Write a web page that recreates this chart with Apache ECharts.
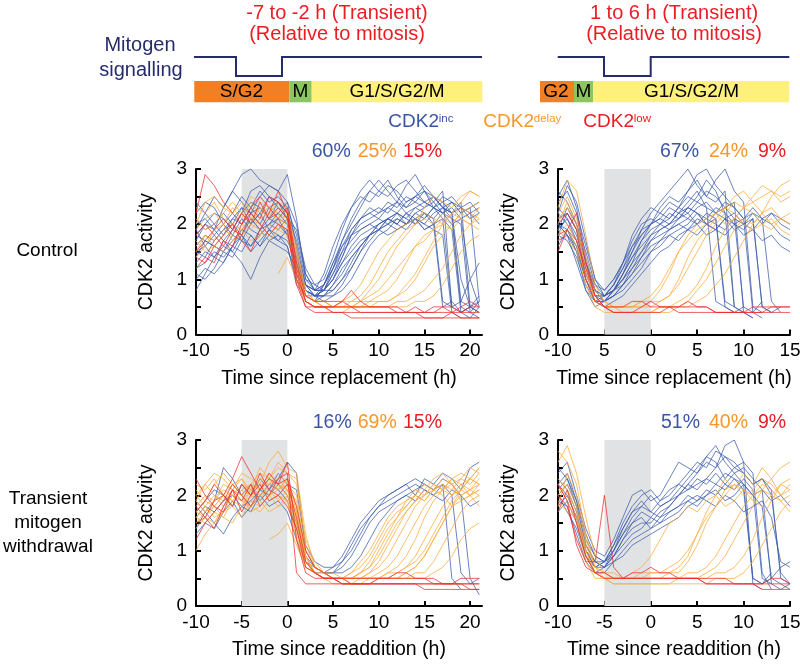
<!DOCTYPE html>
<html><head><meta charset="utf-8">
<script src="https://cdn.jsdelivr.net/npm/echarts@6/dist/echarts.min.js"></script>
<style>html,body{margin:0;padding:0;background:#fff}#c{width:800px;height:664px}</style>
</head><body><div id="c"></div>
<script>
const FONT = '"Liberation Sans", Arial, Helvetica, sans-serif';

// ---------- time axes ----------
const timeLong = [-10,-9,-8,-7,-6,-5,-4,-3,-2,-1,0,1,2,3,4,5,6,7,8,9,10,11,12,13,14,15,16,17,18,19,20,21];
const timeShort = [-10,-9,-8,-7,-6,-5,-4,-3,-2,-1,0,1,2,3,4,5,6,7,8,9,10,11,12,13,14,15];

// ---------- tick labels ----------
const ticksLong = [-10,-5,0,5,10,15,20];
const tickLabelsLong = ['-10','-5','0','5','10','15','20'];
const ticksShort = [-10,-5,0,5,10,15];
const tickLabelsShortTop = ['-10','5','0','5','10','15'];
const tickLabelsShortBottom = ['-10','-5','0','5','10','15'];
const yTickLabels = ['0','1','2','3'];

// ---------- shaded windows ----------
const bandA = [-5, 0], bandB = [-5, 0], bandC = [-5, 0], bandD = [-5, 0];

// ---------- percentages ----------
const pctA = ['60%','25%','15%'];
const pctB = ['67%','24%','9%'];
const pctC = ['16%','69%','15%'];
const pctD = ['51%','40%','9%'];

// ---------- Panel A: Control, replacement (t = -10..21) ----------
const A_inc = [
 [1.6,1.8,1.7,1.9,2.0,1.8,2.1,1.9,2.0,2.2,2.0, 1.1,0.8,0.7,0.9,1.2,1.5,1.7,1.9,2.0,2.1,2.0,2.2,2.1,2.3,2.2,2.1,0.6,0.5,null,null,null],
 [1.3,1.5,1.4,1.7,1.9,2.2,2.4,2.3,2.1,2.4,2.2, 1.6,0.9,0.8,0.8,1.0,1.3,1.6,1.8,1.9,2.0,2.1,2.0,2.2,2.1,2.0,2.2,2.3,2.1,0.5,0.4,0.6],
 [2.0,2.1,1.9,2.3,2.6,2.9,3.0,2.8,2.7,2.6,2.9, 2.1,1.0,0.8,0.9,1.3,1.7,2.0,2.3,2.6,2.8,2.6,2.4,2.7,2.9,2.6,2.5,2.3,2.4,2.2,2.3,2.4],
 [1.8,1.7,1.6,1.5,1.7,1.9,1.8,1.6,1.8,1.7,1.9, 1.0,0.7,0.6,0.7,0.9,1.2,1.4,1.6,1.8,1.9,2.0,1.9,2.0,2.1,2.0,1.9,1.8,0.4,0.3,null,null],
 [0.8,1.1,1.4,1.6,1.5,1.3,1.0,1.4,1.7,1.6,1.5, 1.2,0.9,0.7,0.8,1.0,1.4,1.8,2.0,2.1,2.2,2.3,2.4,2.2,2.3,2.4,2.5,2.3,2.2,2.4,0.5,0.4],
 [2.2,2.4,2.3,2.0,2.2,2.5,2.3,2.6,2.4,2.5,2.3, 1.8,1.1,0.8,0.8,1.1,1.5,1.9,2.1,2.3,2.2,2.4,2.3,2.5,2.4,2.3,2.4,2.6,0.5,0.6,1.0,1.3],
 [1.5,1.6,1.8,2.0,1.8,1.7,2.0,2.2,1.9,2.1,2.0, 1.4,0.8,0.7,0.7,0.9,1.1,1.4,1.6,1.8,1.9,2.0,2.1,2.0,2.1,1.9,2.0,2.2,2.1,2.0,0.4,0.3],
 [1.9,1.6,1.4,1.3,1.6,1.9,2.1,1.9,1.7,1.8,1.6, 1.0,0.7,0.6,0.9,1.3,1.6,1.8,1.9,2.0,1.9,2.1,2.2,2.1,2.0,2.2,2.1,2.3,2.2,1.0,0.5,0.6],
 [1.1,1.0,1.2,1.5,1.4,1.7,1.6,1.8,2.0,2.1,1.8, 1.3,0.9,0.8,0.8,0.8,1.0,1.2,1.5,1.7,1.9,2.1,2.2,2.4,2.5,2.4,2.3,2.4,2.5,2.3,2.2,2.3],
 [2.1,1.9,2.0,2.2,2.0,2.3,2.2,2.0,2.3,2.4,2.2, 1.7,1.0,0.9,1.0,1.4,1.9,2.3,2.6,2.8,2.6,2.5,2.7,2.8,2.6,2.4,2.3,2.5,2.4,2.2,2.3,0.6],
 [1.4,1.7,1.6,1.5,1.8,2.1,1.9,1.8,2.0,1.9,2.1, 1.5,0.8,0.7,0.6,0.7,0.9,1.2,1.5,1.8,2.0,2.1,2.0,1.9,2.1,2.2,2.0,2.1,1.9,0.4,0.3,0.5],
 [1.7,2.0,2.2,2.1,1.9,2.2,2.6,2.7,2.5,2.4,2.1, 1.9,1.2,0.9,0.8,1.1,1.4,1.8,2.1,2.2,2.3,2.2,2.4,2.3,2.5,2.6,2.4,2.2,2.3,2.1,2.2,2.0],
 [1.2,1.3,1.5,1.4,1.6,1.5,1.8,1.6,1.9,1.7,1.6, 0.9,0.7,0.7,0.8,1.0,1.3,1.5,1.7,1.8,1.9,1.8,1.9,2.0,2.1,1.9,2.0,0.5,0.6,0.4,0.5,null],
 [1.9,2.2,2.0,1.8,2.1,2.0,2.2,2.3,2.1,2.2,2.4, 1.6,0.9,0.7,0.8,1.2,1.6,1.9,2.1,2.2,2.1,2.3,2.2,2.0,2.2,2.3,2.5,2.4,2.2,2.3,2.4,2.2],
 [1.5,1.4,1.7,1.9,2.1,2.3,2.0,2.2,2.5,2.3,2.1, 1.4,0.9,0.8,1.1,1.6,2.0,2.3,2.5,2.4,2.6,2.8,2.5,2.3,2.4,2.6,2.3,2.1,0.5,0.4,0.5,0.7],
 [1.8,2.0,1.9,1.7,1.5,1.8,1.6,1.9,2.1,2.0,1.8, 1.2,0.8,0.7,0.7,0.8,1.0,1.3,1.6,1.8,2.0,2.1,2.0,2.2,2.0,2.1,2.3,2.2,2.0,2.1,1.0,0.5],
 [2.4,2.2,2.5,2.3,2.6,2.4,2.2,2.5,2.7,2.6,2.4, 2.0,1.1,0.8,0.9,1.2,1.7,2.1,2.4,2.6,2.5,2.7,2.6,2.4,2.5,2.7,2.5,2.3,2.2,0.6,0.5,0.4],
 [1.0,1.2,1.1,1.3,1.6,1.8,1.5,1.7,1.9,1.8,1.7, 1.3,0.8,0.7,0.7,0.7,0.8,1.0,1.3,1.6,1.8,1.9,2.1,2.0,2.2,2.1,2.3,2.2,2.4,2.3,2.1,2.2]
];
const A_delay = [
 [1.9,2.1,2.2,2.0,2.3,2.1,2.4,2.2,2.3,2.0,2.2, 1.3,0.7,0.6,0.5,0.5,0.6,0.6,0.7,0.9,1.2,1.5,1.7,1.9,2.0,2.1,2.0,2.2,2.1,2.3,2.2,2.1],
 [1.6,1.8,1.7,1.9,1.8,2.0,1.9,2.1,2.2,2.1,2.0, 1.2,0.7,0.6,0.5,0.5,0.5,0.5,0.6,0.6,0.7,0.8,1.0,1.3,1.6,1.8,1.9,2.0,1.9,2.1,2.0,2.2],
 [2.3,2.2,2.4,2.1,2.0,2.2,2.5,2.4,2.3,2.2,2.1, 1.5,0.8,0.6,0.6,0.5,0.5,0.5,0.5,0.6,0.6,0.6,0.7,0.8,1.0,1.3,1.6,1.8,2.0,2.2,2.3,2.4],
 [1.7,1.5,1.6,1.8,2.0,1.9,1.7,1.8,2.0,1.9,2.1, 1.1,0.6,0.5,0.5,0.5,0.6,0.7,0.9,1.2,1.5,1.7,1.9,2.0,2.1,2.2,2.1,2.0,2.2,2.1,2.0,1.9],
 [null,null,null,null,null,null,null,null,null,1.1,1.4, 1.0,0.6,0.5,0.5,0.5,0.5,0.5,0.5,0.5,0.5,0.5,0.6,0.6,0.7,0.8,1.0,1.2,1.5,1.8,2.0,2.1],
 [2.0,2.4,2.5,2.3,2.2,2.4,2.1,2.3,2.2,2.4,2.3, 1.4,0.7,0.6,0.6,0.5,0.5,0.6,0.6,0.8,1.0,1.3,1.6,1.8,2.0,2.3,2.5,2.4,2.3,2.5,2.6,2.5],
 [1.4,1.6,1.9,2.0,1.7,1.8,2.0,1.9,1.7,1.9,1.8, 1.0,0.6,0.5,0.5,0.4,0.4,0.5,0.5,0.5,0.5,0.5,0.5,0.5,0.6,0.6,0.7,0.9,1.2,1.5,1.7,1.8],
 [2.1,1.9,2.0,2.2,2.4,2.2,2.0,2.3,2.1,2.3,2.2, 1.6,0.8,0.6,0.6,0.5,0.5,0.5,0.6,0.7,0.8,1.0,1.2,1.4,1.6,1.7,1.9,2.1,2.0,2.2,2.1,2.3],
 [1.5,1.8,1.6,1.5,1.7,1.9,2.1,2.0,1.8,2.0,1.9, 1.2,0.7,0.6,0.5,0.5,0.5,0.5,0.5,0.5,0.6,0.6,0.7,0.9,1.1,1.4,1.7,2.0,2.2,2.4,2.6,2.5]
];
const A_low = [
 [2.2,2.9,2.7,2.4,2.2,2.0,2.3,2.1,2.5,2.4,2.2, 1.2,0.6,0.5,0.5,0.4,0.4,0.4,0.4,0.4,0.4,0.4,0.4,0.4,0.4,0.4,0.4,0.4,0.4,0.4,0.4,0.4],
 [1.4,1.3,1.6,1.8,2.0,1.7,1.5,1.9,2.2,2.6,2.2, 1.0,0.5,0.5,0.5,0.5,0.6,0.8,0.6,0.5,0.5,0.5,0.5,0.4,0.5,0.4,0.4,0.5,0.5,0.4,0.5,0.5],
 [1.5,1.7,1.9,2.1,1.9,1.8,2.2,2.0,1.8,2.0,1.9, 0.9,0.5,0.4,0.4,0.4,0.4,0.3,0.3,0.3,0.3,0.3,0.3,0.3,0.3,0.3,0.3,0.3,0.3,0.3,0.3,0.3],
 [1.2,1.4,1.3,1.7,1.6,2.0,2.3,2.5,2.3,2.1,2.3, 1.3,0.7,0.6,0.6,0.6,0.6,0.5,0.5,0.5,0.5,0.5,0.4,0.4,0.4,0.4,0.5,0.5,0.4,0.5,0.6,0.5],
 [1.8,2.0,1.8,1.6,1.9,2.2,2.0,2.4,2.1,2.3,2.1, 1.1,0.6,0.5,0.5,0.5,0.5,0.5,0.4,0.4,0.4,0.4,0.4,0.4,0.4,0.3,0.3,0.3,0.4,0.3,0.3,0.3]
];

// ---------- Panel B: Control, 1 to 6 h (t = -10..15) ----------
const B_inc = [
 [2.0,1.9,1.5,1.0,0.7,0.7,0.8,1.0,1.2,1.4,1.6,1.7,1.9,2.0,2.1,2.0,2.2,2.1,0.5,0.4,0.5,null,null,null,null,null],
 [2.3,2.1,1.8,1.2,0.8,0.6,0.7,0.9,1.2,1.5,1.8,1.9,2.0,2.2,2.1,2.3,2.4,2.2,2.3,2.1,0.5,0.4,0.6,null,null,null],
 [2.5,2.8,2.3,1.4,0.8,0.6,0.8,1.1,1.5,1.9,2.2,2.4,2.6,2.8,3.0,2.7,2.5,2.8,3.0,2.6,2.4,0.5,0.4,null,null,null],
 [1.8,1.7,1.4,0.9,0.6,0.5,0.6,0.7,0.9,1.1,1.3,1.5,1.6,1.8,1.9,1.8,2.0,1.9,1.8,2.0,1.9,2.1,0.5,0.4,null,null],
 [2.1,2.2,1.9,1.3,0.9,0.8,1.0,1.3,1.6,1.8,2.0,2.1,2.3,2.2,2.4,2.6,2.3,0.6,0.5,0.4,null,null,null,null,null,null],
 [1.6,1.9,1.6,1.0,0.6,0.6,0.7,0.8,1.0,1.2,1.5,1.7,1.8,1.9,2.0,2.2,2.1,2.0,1.9,2.1,2.0,1.9,2.1,2.0,1.8,1.7],
 [2.2,2.0,1.7,1.1,0.7,0.7,0.9,1.2,1.6,1.9,2.0,2.1,2.0,2.2,2.3,2.5,2.8,2.6,2.2,0.5,0.4,0.3,null,null,null,null],
 [1.9,2.3,2.0,1.5,0.9,0.7,0.8,1.0,1.3,1.5,1.7,1.8,1.9,2.0,1.9,2.1,2.0,2.2,2.1,1.9,2.0,2.2,2.1,0.6,0.4,null],
 [1.7,1.8,1.5,0.8,0.5,0.6,0.8,1.1,1.4,1.7,1.9,2.0,2.1,2.3,2.2,2.4,2.3,2.2,2.4,2.3,2.1,2.2,2.0,2.2,2.1,2.0],
 [2.4,2.6,2.2,1.6,1.0,0.8,1.0,1.3,1.7,2.0,2.1,2.0,2.2,2.1,2.3,2.2,2.0,2.1,0.6,0.5,null,null,null,null,null,null],
 [2.0,1.8,1.3,0.8,0.6,0.7,0.8,0.9,1.1,1.3,1.5,1.6,1.8,1.7,1.9,2.0,1.8,1.9,2.1,2.0,1.8,1.9,1.7,1.8,1.6,1.5],
 [2.2,2.7,2.4,1.7,1.0,0.7,0.9,1.2,1.5,1.8,2.0,2.3,2.5,2.4,2.6,2.9,3.0,2.7,2.5,2.3,2.1,0.4,0.3,null,null,null],
 [1.9,2.1,1.7,1.1,0.7,0.6,0.8,1.1,1.4,1.6,1.8,2.0,1.9,2.1,2.2,2.0,2.1,2.3,2.2,2.0,2.1,2.3,2.1,2.2,2.0,1.9],
 [2.6,2.4,2.0,1.3,0.8,0.7,0.9,1.3,1.8,2.1,2.3,2.2,2.4,2.3,2.5,2.4,2.6,2.5,2.3,2.4,0.4,0.3,null,null,null,null],
 [2.0,1.8,1.6,1.0,0.6,0.6,0.7,0.9,1.1,1.4,1.7,1.9,2.0,2.1,2.3,2.2,2.0,1.9,2.1,2.2,2.0,2.1,0.5,0.4,0.5,null],
 [1.8,2.2,1.9,1.3,0.8,0.7,0.8,1.0,1.3,1.7,2.0,2.2,2.1,2.3,2.6,2.8,2.5,2.4,2.6,0.5,0.4,null,null,null,null,null]
];
const B_delay = [
 [2.0,2.4,2.0,1.2,0.6,0.5,0.5,0.5,0.5,0.5,0.6,0.8,1.1,1.5,1.8,2.0,2.1,2.2,2.0,2.1,2.3,2.2,2.0,1.9,2.1,2.0],
 [1.8,2.0,1.7,1.0,0.6,0.5,0.4,0.4,0.4,0.4,0.4,0.5,0.5,0.6,0.7,0.9,1.2,1.6,1.9,2.1,2.3,2.4,2.5,2.6,2.5,2.6],
 [2.2,2.5,2.1,1.4,0.8,0.6,0.5,0.5,0.5,0.6,0.7,0.9,1.2,1.5,1.7,1.9,2.0,2.2,2.3,2.2,2.0,1.9,2.0,2.1,1.9,1.8],
 [1.9,1.7,1.5,0.9,0.5,0.4,0.4,0.4,0.4,0.4,0.4,0.4,0.4,0.5,0.5,0.6,0.7,0.9,1.1,1.4,1.7,2.0,2.2,2.5,2.7,2.8],
 [2.3,2.8,2.6,1.8,0.9,0.6,0.5,0.5,0.5,0.5,0.5,0.6,0.7,1.0,1.4,1.7,1.9,2.1,2.3,2.5,2.6,2.4,2.2,2.0,2.1,2.0],
 [1.7,1.9,1.6,1.1,0.7,0.5,0.5,0.4,0.4,0.4,0.4,0.5,0.5,0.5,0.6,0.8,1.0,1.3,1.6,1.9,2.1,2.0,2.2,2.3,2.1,2.2],
 [2.1,2.3,1.9,1.2,0.7,0.5,0.5,0.5,0.5,0.6,0.6,0.6,0.7,0.9,1.2,1.5,1.8,2.0,2.2,2.4,2.3,2.5,2.7,2.6,2.4,2.5]
];
const B_low = [
 [2.0,2.2,1.9,1.0,0.6,0.5,0.4,0.4,0.4,0.4,0.4,0.4,0.5,0.5,0.6,0.5,0.5,0.4,0.4,0.4,0.4,0.4,0.4,0.4,0.4,0.4],
 [1.8,1.9,2.2,1.3,0.7,0.5,0.4,0.4,0.4,0.5,0.6,0.5,0.5,0.5,0.5,0.5,0.5,0.4,0.4,0.4,0.4,0.5,0.5,0.5,0.5,0.5],
 [1.5,1.9,1.7,1.2,0.7,0.5,0.5,0.5,0.6,0.6,0.5,0.5,0.5,0.4,0.4,0.4,0.4,0.4,0.4,0.4,0.4,0.4,0.4,0.5,0.5,0.5]
];

// ---------- Panel C: transient withdrawal, readdition (t = -10..21) ----------
const C_inc = [
 [1.6,1.8,1.7,1.9,2.0,1.8,1.9,2.1,2.0,2.2,2.0, 1.5,0.9,0.7,0.6,0.6,0.7,0.9,1.2,1.5,1.7,1.8,1.9,2.0,2.1,2.2,2.1,2.2,2.0,0.6,0.4,0.5],
 [1.4,1.7,1.9,2.5,2.3,2.0,2.2,1.9,2.1,2.3,2.6, 2.4,1.0,0.7,0.6,0.7,0.9,1.2,1.5,1.7,1.9,2.0,2.1,2.2,2.0,2.3,2.2,2.4,2.3,2.1,2.5,2.6],
 [1.9,1.7,1.5,1.3,1.6,1.8,1.7,2.0,1.8,1.9,1.7, 1.2,0.8,0.6,0.6,0.6,0.8,1.1,1.4,1.6,1.8,1.9,2.0,2.1,2.2,2.1,2.0,2.2,0.5,0.3,null,null],
 [1.3,1.5,1.4,1.7,1.9,1.6,1.8,2.0,2.2,2.1,1.9, 1.4,0.8,0.7,0.6,0.6,0.6,0.7,0.9,1.2,1.5,1.7,1.9,2.0,1.9,2.1,2.0,1.9,2.1,2.0,1.8,1.9],
 [1.7,1.9,2.1,2.0,1.8,2.2,2.0,2.3,2.1,2.4,2.2, 2.1,1.1,0.8,0.7,0.7,0.8,1.0,1.3,1.6,1.8,2.0,2.1,2.2,2.3,2.2,2.1,2.3,2.2,2.0,0.5,0.2]
];
const C_delay = [
 [1.0,1.3,1.5,1.8,2.0,1.9,2.1,2.0,2.2,2.1,2.3, 1.5,0.8,0.6,0.5,0.5,0.5,0.5,0.6,0.7,0.9,1.2,1.5,1.7,1.9,2.0,2.1,2.2,2.1,2.3,2.2,2.4],
 [1.6,1.5,1.7,1.6,1.9,2.1,2.0,2.3,2.2,2.4,2.2, 1.8,0.9,0.6,0.5,0.5,0.5,0.5,0.5,0.5,0.6,0.7,0.9,1.2,1.5,1.8,2.0,2.1,2.2,2.0,2.1,2.3],
 [1.8,2.0,1.9,2.2,2.1,2.4,2.3,2.2,2.6,2.8,2.5, 2.4,1.3,0.7,0.6,0.5,0.5,0.5,0.5,0.5,0.5,0.5,0.6,0.7,0.9,1.2,1.5,1.8,2.0,2.2,2.3,2.5],
 [2.0,1.8,1.6,1.7,2.0,1.9,1.8,1.7,1.9,2.0,1.9, 1.2,0.7,0.6,0.5,0.5,0.5,0.6,0.8,1.0,1.3,1.6,1.8,1.9,2.1,2.0,2.2,2.1,2.0,2.2,2.1,2.0],
 [1.5,1.7,1.8,1.6,1.5,1.8,2.0,1.9,1.7,1.8,2.0, 1.6,0.8,0.6,0.5,0.4,0.4,0.4,0.5,0.5,0.5,0.5,0.5,0.6,0.7,0.9,1.2,1.5,1.8,2.0,2.1,2.2],
 [2.2,2.1,2.3,2.0,1.9,2.1,2.2,2.4,2.3,2.1,2.2, 2.0,1.0,0.7,0.6,0.5,0.5,0.5,0.5,0.6,0.8,1.1,1.4,1.7,1.9,2.1,2.3,2.4,2.2,2.3,2.5,2.4],
 [null,null,null,null,null,null,null,null,1.2,1.3,1.5, 1.1,0.7,0.6,0.5,0.5,0.5,0.5,0.5,0.5,0.5,0.6,0.6,0.7,0.8,1.0,1.3,1.6,1.9,2.1,2.0,2.2],
 [1.7,1.6,1.8,2.0,2.2,2.0,1.8,2.0,2.1,1.9,2.1, 1.7,0.9,0.6,0.5,0.5,0.5,0.5,0.6,0.7,1.0,1.3,1.6,1.9,2.0,2.2,2.1,2.3,2.2,1.9,2.0,2.1],
 [1.9,2.2,2.0,1.8,2.1,2.3,2.0,2.1,2.4,2.2,2.0, 1.4,0.8,0.6,0.5,0.5,0.5,0.4,0.4,0.5,0.5,0.5,0.5,0.5,0.6,0.6,0.8,1.1,1.4,1.7,1.9,2.0],
 [1.4,1.6,1.5,1.7,1.8,1.6,1.9,1.8,2.0,1.8,1.9, 1.3,0.7,0.6,0.6,0.5,0.5,0.6,0.7,0.9,1.2,1.5,1.7,1.8,2.0,1.9,2.1,2.0,1.8,1.9,2.0,1.8],
 [2.1,1.9,2.2,2.4,2.2,2.3,2.1,2.5,2.3,2.6,2.4, 2.2,1.2,0.8,0.6,0.6,0.5,0.5,0.5,0.5,0.5,0.6,0.7,0.9,1.2,1.6,1.9,2.1,2.3,2.4,2.3,2.5],
 [1.6,1.8,2.0,1.9,2.1,2.0,1.7,1.8,2.0,2.2,2.1, 1.5,0.8,0.6,0.5,0.5,0.4,0.4,0.4,0.4,0.5,0.5,0.5,0.5,0.5,0.5,0.6,0.7,0.9,1.2,1.4,1.5],
 [1.9,1.7,1.9,2.1,2.0,2.2,2.1,1.9,2.2,2.3,2.1, 1.9,0.9,0.6,0.5,0.5,0.5,0.5,0.5,0.6,0.7,0.9,1.2,1.5,1.8,2.0,2.2,2.1,2.3,2.2,2.0,2.1],
 [1.7,1.9,1.8,2.0,1.9,1.8,2.1,2.2,2.0,2.1,2.3, 1.7,0.8,0.6,0.5,0.5,0.5,0.5,0.5,0.5,0.5,0.5,0.5,0.6,0.7,0.9,1.2,1.5,1.8,2.1,2.3,2.2],
 [2.0,2.2,2.4,2.3,2.1,2.0,2.2,2.1,2.3,2.5,2.4, 2.3,1.1,0.7,0.6,0.5,0.5,0.5,0.6,0.8,1.1,1.4,1.6,1.8,2.0,1.9,2.1,2.2,2.0,2.1,2.3,2.2]
];
const C_low = [
 [1.7,1.9,2.2,2.0,2.3,2.7,2.4,2.1,2.3,2.2,2.6, 1.2,0.6,0.5,0.5,0.5,0.4,0.4,0.4,0.4,0.4,0.4,0.4,0.4,0.4,0.4,0.4,0.4,0.4,0.4,0.4,0.4],
 [2.3,2.0,1.8,1.7,2.1,1.9,2.2,1.8,2.0,2.3,2.4, 0.6,0.4,0.4,0.4,0.4,0.4,0.4,0.4,0.4,0.4,0.4,0.4,0.4,0.4,0.3,0.3,0.3,0.3,0.3,0.3,0.3],
 [1.5,1.6,1.4,1.8,2.1,1.7,2.0,2.2,1.9,2.0,1.8, 1.4,0.7,0.6,0.5,0.5,0.5,0.5,0.5,0.5,0.5,0.5,0.5,0.5,0.5,0.5,0.5,0.4,0.4,0.5,0.5,0.5],
 [1.8,1.6,1.9,2.0,1.8,2.2,2.0,2.4,2.1,2.0,2.2, 1.6,0.8,0.6,0.5,0.5,0.4,0.4,0.4,0.4,0.5,0.5,0.6,0.6,0.5,0.5,0.4,0.4,0.4,0.4,0.3,0.3],
 [1.2,1.5,1.7,1.9,2.2,2.0,1.8,2.1,2.4,2.2,2.3, 1.8,1.0,0.7,0.6,0.5,0.5,0.4,0.4,0.4,0.4,0.4,0.4,0.4,0.4,0.4,0.4,0.4,0.4,0.4,0.4,0.4]
];

// ---------- Panel D: transient withdrawal, 1 to 6 h (t = -10..15) ----------
const D_inc = [
 [2.2,2.0,1.6,1.0,0.8,0.7,0.9,1.2,1.5,1.7,1.6,1.8,1.9,2.0,2.1,2.2,2.3,2.2,2.4,2.3,2.1,0.5,0.4,0.6,null,null],
 [2.5,2.3,1.9,1.2,0.9,0.8,1.1,1.5,1.8,2.0,2.1,1.9,2.0,2.2,2.4,2.6,2.5,2.8,2.7,2.5,2.6,2.4,0.6,0.3,null,null],
 [1.9,1.8,1.3,0.8,0.6,0.6,0.8,1.0,1.2,1.3,1.4,1.5,1.7,1.8,1.9,2.0,1.9,1.8,2.0,1.9,1.7,1.8,1.9,1.6,0.8,0.7],
 [2.1,2.3,1.8,1.1,0.8,0.7,1.0,1.4,1.7,1.9,1.7,1.6,1.8,2.0,2.2,2.1,2.3,2.5,2.9,3.0,2.6,0.4,0.3,null,null,null],
 [1.7,1.9,1.5,0.9,0.7,0.8,0.9,1.1,1.3,1.4,1.6,1.5,1.6,1.7,1.9,1.8,2.0,2.1,1.9,2.0,2.2,2.0,1.8,0.5,0.4,0.3],
 [2.4,2.6,2.0,1.4,1.0,0.9,1.2,1.6,2.0,2.1,1.9,2.0,2.3,2.6,2.5,2.4,2.7,2.6,2.3,2.5,2.4,2.2,2.3,2.1,0.5,0.4],
 [2.0,1.7,1.4,0.9,0.6,0.7,0.8,0.9,1.1,1.2,1.3,1.4,1.5,1.6,1.8,1.9,2.0,2.2,2.1,2.3,2.2,2.0,2.1,1.9,2.0,1.8],
 [2.3,2.1,1.7,1.0,0.7,0.8,1.1,1.4,1.7,1.8,2.0,1.8,1.9,2.1,2.3,2.5,2.7,2.9,2.6,2.4,2.2,0.5,0.4,0.5,0.7,0.8],
 [2.2,2.4,1.9,1.3,0.9,0.8,1.0,1.3,1.6,1.8,1.7,1.9,2.1,2.2,2.1,2.3,2.2,2.4,2.2,2.1,2.3,2.1,0.5,0.4,null,null],
 [1.8,2.0,1.6,1.0,0.7,0.7,0.9,1.2,1.4,1.5,1.5,1.7,1.8,2.0,2.2,2.4,2.6,2.5,2.7,2.6,2.4,2.2,2.3,2.0,0.6,0.4],
 [2.0,2.2,1.8,1.1,0.8,0.8,1.0,1.3,1.5,1.6,1.4,1.6,1.7,1.8,2.0,1.9,2.1,2.0,2.2,2.4,2.5,2.3,2.1,0.4,0.3,0.4]
];
const D_delay = [
 [2.8,2.6,2.2,1.3,0.7,0.6,0.5,0.5,0.5,0.5,0.5,0.5,0.6,0.6,0.8,1.1,1.5,1.8,2.1,2.2,2.0,2.1,2.3,2.2,2.0,2.1],
 [2.0,2.2,1.8,1.0,0.6,0.5,0.4,0.4,0.4,0.4,0.4,0.4,0.4,0.5,0.5,0.5,0.6,0.7,0.9,1.2,1.5,1.8,2.1,2.3,2.5,2.6],
 [2.2,1.9,1.5,0.8,0.5,0.5,0.5,0.5,0.6,0.7,0.9,1.2,1.5,1.6,1.8,1.7,1.9,2.0,1.8,1.9,2.1,1.9,1.8,2.0,1.9,1.7],
 [1.8,2.4,2.0,1.2,0.7,0.6,0.5,0.5,0.5,0.5,0.5,0.5,0.5,0.5,0.5,0.5,0.5,0.6,0.6,0.7,0.9,1.2,1.6,1.9,2.2,2.3],
 [2.6,2.9,2.4,1.6,0.9,0.6,0.6,0.5,0.5,0.5,0.6,0.6,0.6,0.7,0.9,1.3,1.7,2.0,2.3,2.1,2.4,2.2,2.5,2.3,2.0,2.2],
 [1.9,1.7,1.6,0.9,0.6,0.5,0.4,0.4,0.4,0.4,0.4,0.4,0.4,0.4,0.4,0.4,0.4,0.5,0.5,0.5,0.6,0.8,1.1,1.4,1.7,1.9],
 [2.3,2.1,1.7,1.1,0.7,0.5,0.5,0.5,0.5,0.6,0.6,0.6,0.7,0.8,1.0,1.3,1.6,1.8,2.0,2.2,2.1,2.0,2.2,2.1,1.9,2.0],
 [2.1,2.0,1.6,1.0,0.6,0.5,0.5,0.5,0.5,0.5,0.5,0.5,0.5,0.5,0.6,0.6,0.7,0.9,1.2,1.5,1.8,2.0,2.1,2.0,2.2,2.1]
];
const D_low = [
 [2.0,1.8,1.2,0.8,0.8,2.0,0.7,0.5,0.5,0.5,0.5,0.5,0.5,0.5,0.5,0.5,0.4,0.4,0.4,0.4,0.4,0.4,0.4,0.4,0.4,0.4],
 [1.7,2.1,1.5,0.9,0.6,0.5,0.5,0.5,0.6,0.6,0.7,0.6,0.6,0.5,0.5,0.5,0.5,0.5,0.5,0.4,0.4,0.4,0.4,0.5,0.5,0.4],
 [2.2,1.9,1.1,0.7,0.6,0.6,0.5,0.5,0.5,0.5,0.5,0.5,0.5,0.5,0.5,0.5,0.4,0.4,0.4,0.4,0.4,0.4,0.3,0.3,0.3,0.3]
];

// ---------- styling ----------
const C_BLUE = '#3a5aa9', C_ORANGE = '#f9aa3a', C_RED = '#ec2a2c';
const T_BLUE = '#3a55a5', T_ORANGE = '#f7972a', T_RED = '#ec1c24';
const NAVY = '#262b6e';

const grids = [
  {left: 196, top: 169, width: 286, height: 165.5},
  {left: 558, top: 169, width: 232, height: 165.5},
  {left: 196, top: 440, width: 286, height: 166},
  {left: 558, top: 440, width: 232, height: 166}
];

const panels = [
  {time: timeLong, max: 21.3, ticks: ticksLong, labels: tickLabelsLong, name: 'Time since replacement (h)', band: bandA, inc: A_inc, delay: A_delay, low: A_low},
  {time: timeShort, max: 15, ticks: ticksShort, labels: tickLabelsShortTop, name: 'Time since replacement (h)', band: bandB, inc: B_inc, delay: B_delay, low: B_low},
  {time: timeLong, max: 21.3, ticks: ticksLong, labels: tickLabelsLong, name: 'Time since readdition (h)', band: bandC, inc: C_inc, delay: C_delay, low: C_low},
  {time: timeShort, max: 15, ticks: ticksShort, labels: tickLabelsShortBottom, name: 'Time since readdition (h)', band: bandD, inc: D_inc, delay: D_delay, low: D_low}
];

const xAxes = [], yAxes = [], series = [];
panels.forEach((p, gi) => {
  xAxes.push({
    type: 'value', gridIndex: gi, min: -10, max: p.max,
    name: p.name, nameLocation: 'middle', nameGap: 34,
    nameTextStyle: {fontFamily: FONT, fontSize: 19.5, color: '#000'},
    axisLine: {onZero: false, lineStyle: {color: '#000', width: 2}},
    axisTick: {inside: true, length: 5, lineStyle: {color: '#000', width: 2}, customValues: p.ticks},
    axisLabel: {fontFamily: FONT, fontSize: 19, color: '#000', margin: 7, customValues: p.ticks,
      formatter: v => { const k = p.ticks.indexOf(v); return k >= 0 ? p.labels[k] : ''; }},
    splitLine: {show: false}
  });
  yAxes.push({
    type: 'value', gridIndex: gi, min: 0, max: 3, interval: 0.5,
    name: 'CDK2 activity', nameLocation: 'middle', nameGap: 39,
    nameTextStyle: {fontFamily: FONT, fontSize: 19.5, color: '#000'},
    axisLine: {show: true, onZero: false, lineStyle: {color: '#000', width: 2}},
    axisTick: {show: true, inside: true, length: 5, lineStyle: {color: '#000', width: 2}},
    axisLabel: {fontFamily: FONT, fontSize: 19, color: '#000', margin: 9,
      formatter: v => (Math.abs(v - Math.round(v)) < 1e-6 ? yTickLabels[Math.round(v)] : '')},
    splitLine: {show: false}
  });
  // shaded window
  series.push({
    type: 'line', xAxisIndex: gi, yAxisIndex: gi, data: [], z: 1, silent: true,
    markArea: {silent: true, itemStyle: {color: '#e1e2e4'},
      data: [[{xAxis: p.band[0], yAxis: 0}, {xAxis: p.band[1], yAxis: 3}]]}
  });
  const add = (traces, color, z) => traces.forEach(vals => {
    series.push({
      type: 'line', xAxisIndex: gi, yAxisIndex: gi, z: z, silent: true,
      symbol: 'none', connectNulls: false, animation: false,
      lineStyle: {color: color, width: 1, opacity: 0.75},
      data: p.time.map((t, i) => [t, vals[i]])
    });
  });
  add(p.inc, C_BLUE, 3);
  add(p.delay, C_ORANGE, 4);
  add(p.low, C_RED, 5);
});

// ---------- annotations ----------
const txt = (x, y, text, opts) => ({
  type: 'text', x: x, y: y,
  style: Object.assign({text: text, fontFamily: FONT, fontSize: 19, fill: '#000', align: 'center', verticalAlign: 'middle'}, opts || {})
});

const graphic = [];
graphic.push(txt(337, 13, '-7 to -2 h (Transient)', {fontSize: 20, fill: T_RED}));
graphic.push(txt(337, 34, '(Relative to mitosis)', {fontSize: 20, fill: T_RED}));
graphic.push(txt(674, 13, '1 to 6 h (Transient)', {fontSize: 20, fill: T_RED}));
graphic.push(txt(674, 34, '(Relative to mitosis)', {fontSize: 20, fill: T_RED}));
graphic.push(txt(140, 45, 'Mitogen', {fontSize: 20, fill: NAVY}));
graphic.push(txt(141, 70, 'signalling', {fontSize: 20, fill: NAVY}));
graphic.push({type: 'polyline', shape: {points: [[194,57],[236,57],[236,76],[282,76],[282,57],[482,57]]}, style: {stroke: NAVY, lineWidth: 2, fill: null}});
graphic.push({type: 'polyline', shape: {points: [[557.7,57],[604,57],[604,76],[650.7,76],[650.7,57],[789.3,57]]}, style: {stroke: NAVY, lineWidth: 2, fill: null}});
const bar = (x0, x1, color) => ({type: 'rect', shape: {x: x0, y: 81, width: x1 - x0, height: 21.3}, style: {fill: color}});
graphic.push(bar(194.3, 289.3, '#f07f26'), bar(289.3, 311.7, '#8dc563'), bar(311.7, 482.3, '#fdf07c'));
graphic.push(bar(540, 574, '#f07f26'), bar(574, 593.3, '#8dc563'), bar(593.3, 789.3, '#fdf07c'));
graphic.push(txt(241.5, 92, 'S/G2'), txt(300.5, 92, 'M'), txt(397, 92, 'G1/S/G2/M'));
graphic.push(txt(556, 92, 'G2'), txt(583.5, 92, 'M'), txt(691.5, 92, 'G1/S/G2/M'));
const legendItem = (x, sup, color) => [
  txt(x, 122, 'CDK2', {fill: color, align: 'left'}),
  txt(x + 50.5, 119, sup, {fill: color, align: 'left', fontSize: 11.5})
];
graphic.push(...legendItem(388.3, 'inc', T_BLUE), ...legendItem(483.3, 'delay', T_ORANGE), ...legendItem(583.3, 'low', T_RED));
const pctRow = (y, xs, vals) => vals.map((v, i) => txt(xs[i], y, v, {fill: [T_BLUE, T_ORANGE, T_RED][i], align: 'left', fontSize: 19.5}));
graphic.push(...pctRow(152, [311.7, 357.7, 403], pctA));
graphic.push(...pctRow(152, [660, 709, 758], pctB));
graphic.push(...pctRow(422.5, [312.7, 357.7, 403], pctC));
graphic.push(...pctRow(422.5, [661, 709, 758], pctD));
graphic.push(txt(47, 251, 'Control'));
graphic.push(txt(48, 523, 'Transient\nmitogen\nwithdrawal', {lineHeight: 24}));

const chart = echarts.init(document.getElementById('c'), null, {renderer: 'canvas'});
chart.setOption({
  animation: false,
  backgroundColor: '#fff',
  grid: grids.map(g => Object.assign({containLabel: false, outerBoundsMode: 'none'}, g)),
  xAxis: xAxes,
  yAxis: yAxes,
  series: series,
  graphic: graphic
});
</script>
</body></html>
